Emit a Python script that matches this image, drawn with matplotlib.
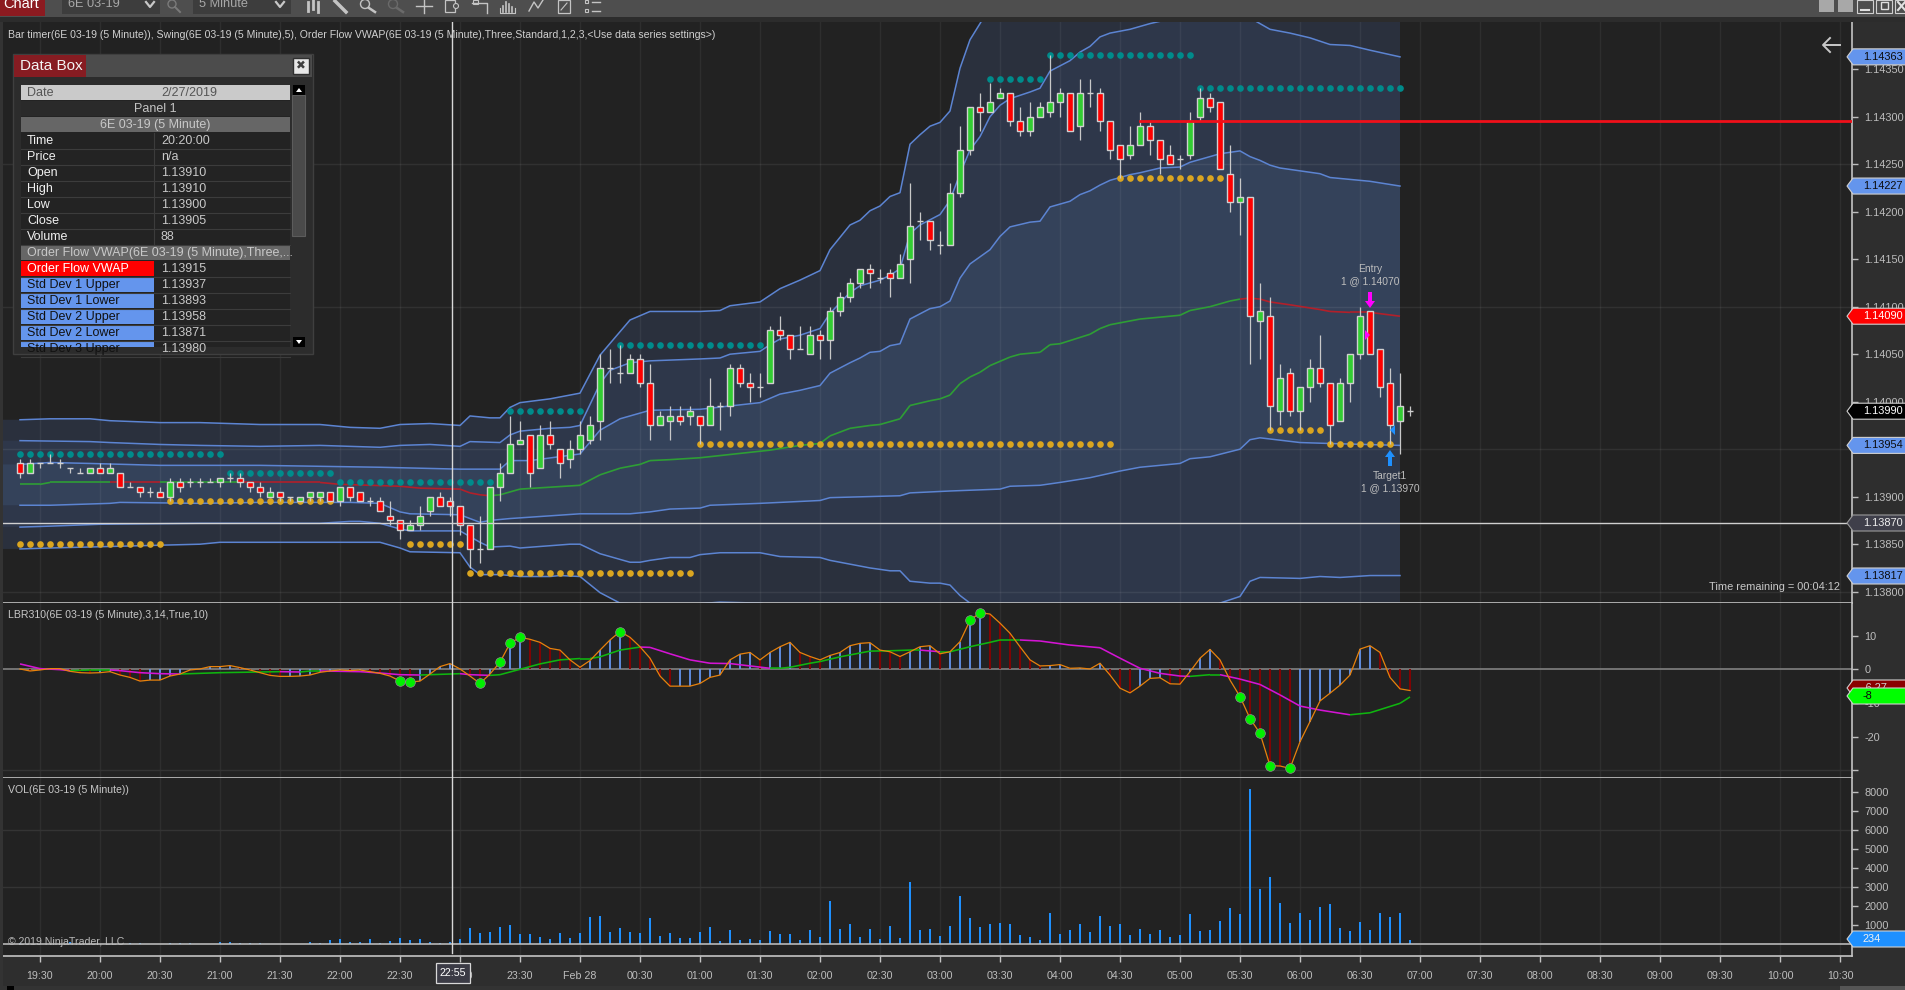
"""NinjaTrader 6E 03-19 5 minute chart: candles + VWAP bands, LBR310 pane, volume pane."""
import matplotlib
matplotlib.use('Agg')
import matplotlib.pyplot as plt
from matplotlib.collections import LineCollection
from matplotlib.patches import Rectangle, Polygon, Circle
import numpy as np

plt.rcParams['font.family'] = ['Liberation Sans', 'DejaVu Sans']

W, H = 1906, 990
BG = '#222222'
TXT = '#bdbdbd'

# --- candles, one row per bar from 19:20, 5 minutes apart
opens = [1.13935,1.13925,1.13935,1.13935,1.13935,1.1393,1.13925,1.13925,1.1393,1.13925,
         1.13925,1.1391,1.1391,1.13905,1.13905,1.139,1.13915,1.13915,1.13915,1.13915,
         1.13915,1.1392,1.1392,1.13915,1.1391,1.139,1.13905,1.139,1.13895,1.139,
         1.139,1.13905,1.13895,1.1391,1.13905,1.13895,1.13895,1.1388,1.13875,1.13865,
         1.1387,1.13885,1.139,1.13895,1.1389,1.1387,1.13845,1.13845,1.1391,1.13925,
         1.13955,1.13965,1.1393,1.13965,1.1395,1.1394,1.1395,1.1396,1.1398,1.14035,
         1.1403,1.1403,1.14045,1.1402,1.13975,1.1398,1.13985,1.13985,1.13985,1.13975,
         1.13995,1.13995,1.14035,1.1402,1.14015,1.1402,1.14075,1.1407,1.14055,1.1405,
         1.1407,1.14065,1.14095,1.1411,1.14125,1.1414,1.1413,1.14135,1.1413,1.1415,
         1.1419,1.1419,1.14165,1.14165,1.1422,1.14265,1.1431,1.14305,1.1432,1.14325,
         1.14295,1.14285,1.143,1.14305,1.14315,1.14325,1.1429,1.14325,1.14325,1.14295,
         1.1427,1.1426,1.1427,1.1429,1.14275,1.1426,1.14255,1.1426,1.143,1.1432,
         1.14315,1.1424,1.1421,1.14215,1.14085,1.1409,1.1399,1.1403,1.1399,1.14015,
         1.14035,1.1402,1.1398,1.1402,1.1405,1.14095,1.14055,1.1402,1.1398,1.1399]
highs = [1.1394,1.1394,1.13935,1.13945,1.1394,1.1393,1.1393,1.1393,1.13935,1.13935,
         1.13925,1.13915,1.1391,1.1391,1.1391,1.1392,1.1392,1.1392,1.1392,1.1392,
         1.1392,1.13925,1.13925,1.13915,1.13915,1.1391,1.13905,1.139,1.139,1.13905,
         1.13905,1.13905,1.1391,1.1391,1.13905,1.139,1.139,1.13895,1.13875,1.13875,
         1.1389,1.139,1.13905,1.139,1.1389,1.1387,1.1388,1.1391,1.13935,1.13985,
         1.1398,1.13965,1.13975,1.1398,1.1395,1.1396,1.1398,1.13985,1.1405,1.14055,
         1.1406,1.1405,1.1405,1.1404,1.1399,1.13995,1.13995,1.13995,1.13985,1.14025,
         1.1400,1.1404,1.1404,1.1403,1.1403,1.1408,1.1409,1.1407,1.1408,1.1408,
         1.14075,1.141,1.14115,1.1413,1.1414,1.14145,1.1414,1.1414,1.14155,1.1423,
         1.142,1.1419,1.1418,1.1423,1.1429,1.1431,1.14325,1.14335,1.1433,1.14325,
         1.1431,1.14315,1.14315,1.14365,1.1433,1.14325,1.1434,1.1434,1.1433,1.14295,
         1.1427,1.1429,1.14305,1.14295,1.14275,1.1427,1.1426,1.14305,1.1433,1.14325,
         1.14315,1.1427,1.14235,1.14215,1.14125,1.1411,1.1404,1.14035,1.14015,1.14045,
         1.1407,1.1402,1.14025,1.1405,1.141,1.14095,1.14055,1.14035,1.1403,1.13995]
lows = [1.1392,1.13925,1.1393,1.13935,1.1393,1.13925,1.13925,1.13925,1.13925,1.13925,
        1.1391,1.1391,1.139,1.139,1.139,1.13895,1.13905,1.1391,1.1391,1.13915,
        1.1391,1.13915,1.1391,1.13905,1.139,1.139,1.13895,1.13895,1.13895,1.13895,
        1.13895,1.13895,1.1389,1.13895,1.13895,1.1389,1.13885,1.1387,1.13855,1.13865,
        1.13865,1.1388,1.1389,1.1388,1.1386,1.13825,1.1383,1.13845,1.13895,1.13925,
        1.13955,1.1391,1.1393,1.1395,1.1392,1.1393,1.13945,1.13955,1.1396,1.1402,
        1.1402,1.1403,1.14015,1.1396,1.13975,1.1396,1.13975,1.13975,1.13955,1.13975,
        1.1397,1.13985,1.14015,1.1400,1.14005,1.1402,1.14065,1.14045,1.14055,1.1405,
        1.14045,1.14045,1.1409,1.14105,1.1412,1.1412,1.14125,1.1411,1.1413,1.14125,
        1.1417,1.1416,1.14155,1.14165,1.14215,1.1426,1.14285,1.14305,1.1432,1.1429,
        1.1428,1.1428,1.143,1.143,1.143,1.14285,1.14275,1.1431,1.14285,1.14255,
        1.14235,1.14255,1.1427,1.1426,1.1424,1.1425,1.14245,1.14255,1.14295,1.14305,
        1.14245,1.142,1.14175,1.1404,1.14045,1.1397,1.13975,1.13985,1.1397,1.1400,
        1.14015,1.13955,1.1398,1.1400,1.14045,1.1405,1.14005,1.13955,1.13945,1.13985]
closes = [1.13925,1.13935,1.13935,1.13935,1.13935,1.1393,1.13925,1.1393,1.13925,1.1393,
          1.1391,1.1391,1.13905,1.13905,1.139,1.13915,1.1391,1.13915,1.13915,1.13915,
          1.1392,1.1392,1.13915,1.1391,1.13905,1.13905,1.139,1.139,1.139,1.13905,
          1.13905,1.13895,1.1391,1.139,1.13895,1.13895,1.13885,1.13875,1.13865,1.1387,
          1.1388,1.139,1.1389,1.1389,1.1387,1.13845,1.13845,1.1391,1.13925,1.13955,
          1.1396,1.13925,1.13965,1.13955,1.13935,1.1395,1.13965,1.13975,1.14035,1.14035,
          1.1403,1.14045,1.1402,1.13975,1.13985,1.13985,1.1398,1.1399,1.13975,1.13995,
          1.13995,1.14035,1.1402,1.14015,1.14015,1.14075,1.1407,1.14055,1.14055,1.1407,
          1.14065,1.14095,1.1411,1.14125,1.1414,1.14135,1.1413,1.1413,1.14145,1.14185,
          1.1419,1.1417,1.14165,1.1422,1.14265,1.1431,1.14305,1.14315,1.14325,1.14295,
          1.14285,1.143,1.1431,1.14315,1.14325,1.14285,1.14325,1.14325,1.14295,1.14265,
          1.14255,1.1427,1.1429,1.14275,1.14255,1.1425,1.14255,1.14295,1.1432,1.1431,
          1.14245,1.1421,1.14215,1.1409,1.14095,1.13995,1.14025,1.1399,1.14015,1.14035,
          1.1402,1.13975,1.1402,1.1405,1.1409,1.1405,1.14015,1.13975,1.13995,1.1399]

# --- VWAP and deviation bands: bar number and price of each bend in the line
std3u_x = [0,3,7,9,14,18,24,30,33,36,38,41,44,45,47,48,49,50,53,56,58,61,63,68,70,71,74,76,78,80,81,83,84,85,86,87,88,89,90,91,92,93,94,95,96,100,120,138]
std3u_y = [1.13981,1.13982,1.13982,1.1398,1.13978,1.13978,1.13976,1.13976,1.13973,1.13972,1.13976,1.13977,1.13975,1.13985,1.13983,1.13983,1.13994,1.13999,1.14003,1.14009,1.14049,1.14086,1.14095,1.14095,1.14096,1.14101,1.14105,1.14119,1.14128,1.14138,1.1416,1.14186,1.14191,1.14201,1.14206,1.14216,1.1422,1.14271,1.14281,1.1429,1.14294,1.14306,1.14351,1.14381,1.14398,1.1447,1.146,1.146]
std2u_x = [0,7,9,14,18,24,30,33,36,38,41,44,45,48,49,50,53,55,56,58,59,61,63,68,70,71,74,75,76,78,80,81,83,84,86,87,88,89,90,92,93,94,95,96,97,98,99,101,102,103,105,106,107,108,109,111,113,118,122,125,127,129,131,133,135,138]
std2u_y = [1.13959,1.13958,1.13957,1.13955,1.13954,1.13953,1.13954,1.13953,1.13952,1.13954,1.13955,1.13953,1.13958,1.13957,1.13965,1.13969,1.13972,1.13973,1.13975,1.14019,1.14033,1.14041,1.14043,1.14045,1.14046,1.1405,1.14053,1.1406,1.14066,1.1407,1.14077,1.14093,1.14115,1.14122,1.14128,1.14133,1.1414,1.14177,1.14186,1.14197,1.14212,1.1424,1.14265,1.14279,1.143,1.14312,1.14319,1.14326,1.1433,1.14348,1.14359,1.14368,1.14374,1.14384,1.14388,1.14392,1.14398,1.1441,1.1441,1.14392,1.14388,1.14383,1.14376,1.14375,1.1437,1.14363]
std1u_x = [0,3,7,14,24,30,36,44,48,49,51,56,58,60,63,68,74,76,78,80,81,83,84,85,86,87,88,89,91,92,93,94,95,97,98,99,101,102,103,105,106,107,108,109,111,112,114,116,117,120,122,123,124,125,126,130,131,133,135,138]
std1u_y = [1.13934,1.13936,1.13935,1.13933,1.13933,1.13932,1.13931,1.13929,1.13929,1.13938,1.13938,1.13945,1.1397,1.13982,1.13991,1.13992,1.13999,1.14008,1.14012,1.14017,1.1403,1.14041,1.14046,1.14052,1.14053,1.14059,1.14061,1.14087,1.14098,1.141,1.14106,1.1413,1.14145,1.1416,1.14174,1.14184,1.14189,1.1419,1.14205,1.14211,1.14218,1.14222,1.14228,1.14233,1.14239,1.14241,1.14246,1.14247,1.14252,1.14261,1.14264,1.14258,1.14254,1.14249,1.14246,1.1424,1.14236,1.14234,1.14232,1.14227]
vwap_x = [0,2,3,9,10,14,15,21,22,30,32,35,38,40,44,45,46,47,48,50,53,56,58,60,62,63,65,68,75,78,80,81,83,85,86,88,89,91,92,93,94,95,96,97,99,100,102,103,104,107,108,109,112,114,116,117,119,121,122,123,124,125,127,130,131,133,135,138]
vwap_y = [1.13913,1.13913,1.13915,1.13915,1.13915,1.13915,1.13915,1.13915,1.13915,1.13915,1.13913,1.13912,1.13911,1.13909,1.13908,1.13904,1.13902,1.13901,1.13902,1.13908,1.1391,1.13912,1.13923,1.1393,1.13934,1.13938,1.13939,1.13941,1.13949,1.13954,1.13956,1.13964,1.13972,1.13975,1.13976,1.13982,1.13996,1.14001,1.14003,1.14007,1.14019,1.14026,1.14031,1.14038,1.14047,1.1405,1.14052,1.1406,1.14061,1.14071,1.14077,1.14081,1.14087,1.14089,1.14091,1.14096,1.141,1.14106,1.14108,1.14109,1.14108,1.14105,1.14102,1.14097,1.14095,1.14094,1.14094,1.1409]
vwap_red_spans = [(9, 14), (22, 47), (122, 138)]
std1l_x = [0,3,9,10,18,24,30,33,36,38,39,44,46,47,49,56,61,63,65,68,69,74,80,81,88,89,93,98,99,102,104,107,110,112,116,117,119,122,123,124,128,131,138]
std1l_y = [1.13891,1.13891,1.13893,1.13894,1.13893,1.13894,1.13894,1.13894,1.13893,1.13884,1.13882,1.13881,1.13873,1.13875,1.13877,1.13882,1.13882,1.13884,1.13887,1.13888,1.13891,1.13893,1.13896,1.13899,1.13901,1.13904,1.13906,1.13908,1.13911,1.13912,1.13915,1.1392,1.13927,1.13931,1.13935,1.1394,1.13942,1.1395,1.1396,1.13962,1.13957,1.13956,1.13954]
std2l_x = [0,3,8,18,30,33,34,36,38,39,44,45,46,47,49,50,55,56,58,61,62,63,65,67,68,70,74,76,80,81,85,87,88,89,91,92,93,94,95,100,115,120,122,123,124,128,130,132,135,137,138]
std2l_y = [1.13868,1.13869,1.13871,1.13872,1.13872,1.13874,1.13874,1.13872,1.13866,1.13864,1.13864,1.13858,1.13852,1.13847,1.13848,1.13846,1.1385,1.1385,1.1384,1.13831,1.13831,1.13833,1.13836,1.13836,1.13839,1.13841,1.13841,1.13837,1.13836,1.13833,1.13825,1.13822,1.13822,1.13811,1.13809,1.13809,1.13807,1.13796,1.13788,1.1376,1.1376,1.13788,1.13795,1.13811,1.13815,1.13814,1.13816,1.13815,1.13817,1.13817,1.13817]
std3l_x = [0,3,18,20,36,38,39,44,45,46,48,50,53,54,56,58,60,65,70,74,78,138]
std3l_y = [1.13845,1.13846,1.1385,1.13852,1.13852,1.13846,1.13842,1.13841,1.13826,1.13818,1.13818,1.13816,1.13816,1.13817,1.13816,1.13799,1.13788,1.13785,1.13789,1.13788,1.1378,1.1370]

# --- swing dots: first bar, last bar, price
swing_high = [(0,20,1.13945),(21,31,1.13925),(32,47,1.13915),(49,56,1.1399),(60,74,1.1406),
              (97,102,1.1434),(103,117,1.14365),(118,138,1.1433)]
swing_low = [(0,14,1.1385),(15,31,1.13895),(39,44,1.1385),(45,67,1.1382),(68,109,1.13955),
             (110,120,1.14235),(125,130,1.1397),(131,137,1.13955)]
resistance = 1.14295
resistance_start = 112

# --- LBR310 pane
fast = [0.1,-0.5,-0.2,0.2,0.2,-0.6,-1.0,-1.1,-1.0,-0.7,-1.7,-2.4,-3.5,-3.2,-3.2,-2.0,-1.4,-0.2,0.1,0.8,
        0.8,1.1,0.5,-0.2,-1.0,-1.8,-2.1,-2.1,-2.0,-1.7,-0.9,-0.5,-0.2,-0.4,-0.2,-0.7,-1.2,-2.0,-3.5,-3.8,
        -3.5,-1.4,0.8,1.7,0.1,-2.0,-4.2,-1.4,2.1,7.7,9.5,8.9,8.0,6.2,5.7,2.8,0.6,2.6,5.7,8.7,
        11.2,9.5,6.7,3.3,-2.0,-5.0,-5.0,-5.0,-4.2,-2.4,-1.7,2.8,4.5,5.0,2.8,5.0,6.7,8.0,5.0,3.8,
        2.8,4.1,5.0,7.0,7.7,7.9,5.7,5.2,3.8,5.2,6.7,7.0,4.6,5.2,8.2,14.5,16.8,16.4,13.7,10.7,
        6.7,2.8,1.0,1.1,1.4,0.3,0.4,0.1,1.8,-1.7,-5.6,-7.0,-5.0,-2.7,-2.5,-4.3,-4.4,-0.7,3.3,5.9,
        2.8,-3.2,-8.1,-14.6,-19.0,-28.6,-28.7,-29.4,-21.5,-15.5,-9.4,-7.1,-4.7,-1.7,6.0,7.0,5.0,-2.4,-5.8,-6.3]
slow_x = [0,2,4,5,7,9,10,12,14,16,18,20,22,24,26,28,29,30,32,34,36,38,40,42,44,45,47,48,50,52,54,56,57,58,60,62,63,65,67,69,71,73,75,76,77,79,80,82,85,87,89,90,92,93,95,97,98,100,102,105,108,110,112,114,116,117,119,120,122,124,126,128,130,133,135,138,139]
slow_y = [1.6,0.2,-0.1,-0.4,-0.2,-0.2,-0.4,-1.0,-1.3,-1.4,-1.2,-1.0,-0.9,-0.8,-0.7,-0.8,-0.5,-0.5,-0.6,-0.7,-1.1,-1.6,-1.7,-1.5,-1.3,-1.6,-1.8,-1.6,0.0,1.6,2.8,3.2,3.2,3.7,5.7,6.6,6.5,4.6,2.8,1.8,1.7,1.0,0.3,0.3,0.6,1.8,2.3,3.7,5.4,5.5,5.7,5.7,5.2,5.2,6.7,8.0,8.7,8.7,8.4,7.2,6.4,3.3,0.3,-1.2,-2.0,-2.1,-1.6,-1.6,-2.9,-4.5,-7.6,-10.9,-12.1,-13.5,-12.9,-10.1,-8.2]
signal_bars = [38,39,46,48,49,50,60,95,96,122,123,124,125,127]

# --- volume pane
volume = [50,20,20,20,20,90,20,20,20,20,20,50,70,20,20,70,70,70,20,20,
          90,120,70,70,70,20,20,20,20,120,50,230,280,120,120,280,70,180,330,230,
          280,120,70,120,280,858,595,648,910,1015,543,543,385,280,595,333,595,1435,1488,648,
          858,648,595,1383,438,595,333,333,648,910,175,753,228,280,228,700,543,543,228,753,
          385,2275,805,1068,385,805,280,963,333,3273,753,805,438,963,2538,1383,910,1068,1120,1068,
          490,385,228,1645,543,753,1068,648,1488,963,1068,490,805,543,753,385,490,1593,700,753,
          1225,1908,1593,8155,2905,3535,2170,1120,1645,1278,1960,2118,858,700,1173,753,1645,1435,1645,234]

time_labels = ['19:30','20:00','20:30','21:00','21:30','22:00','22:30','23:00','23:30','Feb 28',
               '00:30','01:00','01:30','02:00','02:30','03:00','03:30','04:00','04:30','05:00',
               '05:30','06:00','06:30','07:00','07:30','08:00','08:30','09:00','09:30','10:00','10:30']
price_ticks = [1.138,1.1385,1.139,1.1395,1.14,1.1405,1.141,1.1415,1.142,1.1425,1.143,1.1435]
price_grid = [1.138,1.1395,1.141,1.1425]
lbr_ticks = [10,0,-10,-20,-30]
vol_ticks = [1000,2000,3000,4000,5000,6000,7000,8000]

box_rows = [('Time','20:20:00'),('Price','n/a'),('Open','1.13910'),('High','1.13910'),
            ('Low','1.13900'),('Close','1.13905'),('Volume','88')]
box_plots = [('Order Flow VWAP','1.13915','#ff0000','#ffffff'),('Std Dev 1 Upper','1.13937','#6495ed','#111111'),
             ('Std Dev 1 Lower','1.13893','#6495ed','#111111'),('Std Dev 2 Upper','1.13958','#6495ed','#111111'),
             ('Std Dev 2 Lower','1.13871','#6495ed','#111111'),('Std Dev 3 Upper','1.13980','#6495ed','#111111')]

AXIS_X = 1852
BARS_LEFT, BARS_RIGHT = -2.0, 183.2

fig = plt.figure(figsize=(W / 100, H / 100), dpi=100, facecolor='#2e2e2e')


def pane(top, bottom, ylim):
    ax = fig.add_axes([0, 1 - bottom / H, AXIS_X / W, (bottom - top) / H], facecolor=BG)
    ax.set_xlim(BARS_LEFT, BARS_RIGHT)
    ax.set_ylim(*ylim)
    ax.yaxis.tick_right()
    for side in ['left', 'top']:
        ax.spines[side].set_visible(False)
    for side in ['right', 'bottom']:
        ax.spines[side].set_color('#c4c4c4')
        ax.spines[side].set_linewidth(1.2)
    ax.tick_params(axis='y', colors=TXT, length=4, width=1, labelsize=7.9, pad=5)
    ax.tick_params(axis='x', length=0, labelbottom=False)
    tick_bars = [2 + 6 * k for k in range(len(time_labels))]
    ax.set_xticks(tick_bars)
    for b in tick_bars:
        ax.axvline(b, color='#ffffff', alpha=0.055, lw=1, zorder=1.5)
    return ax


ax = pane(22, 603, (1.1435 - (603 - 69.2) / 95000, 1.1435 + (69.2 - 22) / 95000))
ax_lbr = pane(603, 778, (-(778 - 669.3) / 3.37, (669.3 - 603) / 3.37))
ax_vol = pane(778, 956, (-(956 - 944) / 0.01905, (944 - 778) / 0.01905))

# bands, widest first so the inner ones sit on top
edge_x = BARS_LEFT


def band_fill(x_up, y_up, x_lo, y_lo, color):
    xs = [edge_x] + x_up + [138, 138] + x_lo[::-1] + [edge_x]
    ys = [y_up[0]] + y_up + [y_up[-1], y_lo[-1]] + y_lo[::-1] + [y_lo[0]]
    ax.fill(xs, ys, color=color, lw=0, zorder=1)


band_fill(std3u_x, std3u_y, std3l_x, std3l_y, '#2a303d')
band_fill(std2u_x, std2u_y, std2l_x, std2l_y, '#2e374a')
band_fill(std1u_x, std1u_y, std1l_x, std1l_y, '#34425a')

for p in price_grid:
    ax.axhline(p, color='#ffffff', alpha=0.07, lw=1, zorder=1.5)

for xs, ys in [(std3u_x, std3u_y), (std2u_x, std2u_y), (std1u_x, std1u_y),
               (std1l_x, std1l_y), (std2l_x, std2l_y), (std3l_x, std3l_y)]:
    ax.plot(xs, ys, color='#5c84d2', lw=1.1, zorder=2)

# vwap goes red in some stretches, green otherwise
vwap_pts = np.column_stack([vwap_x, vwap_y])
vwap_segs = np.stack([vwap_pts[:-1], vwap_pts[1:]], axis=1)
vwap_cols = ['#b2202a' if any(a <= x0 < b for a, b in vwap_red_spans) else '#2e9e35'
             for x0 in vwap_x[:-1]]
ax.add_collection(LineCollection(vwap_segs, colors=vwap_cols, linewidths=1.2, zorder=2.2))

for first, last, price in swing_high:
    ax.plot(range(first, last + 1), [price] * (last - first + 1), ls='none', marker='o', ms=4.8,
            color='#008b8b', mec='none', zorder=3)
for first, last, price in swing_low:
    ax.plot(range(first, last + 1), [price] * (last - first + 1), ls='none', marker='o', ms=4.8,
            color='#daa520', mec='none', zorder=3)

ax.plot([resistance_start, BARS_RIGHT], [resistance, resistance], color='#f0101a', lw=2, zorder=4.5)

# candles
bars = np.arange(len(closes))
o, h, l, c = map(np.array, (opens, highs, lows, closes))
ax.vlines(bars, l, h, color='#c8c8c8', lw=0.9, zorder=4)
up = c > o
down = c < o
flat = c == o
ax.bar(bars[up], (c - o)[up], 0.55, bottom=o[up], color='#32cd32', edgecolor='#d0d0d0', lw=1, zorder=4.2)
ax.bar(bars[down], (o - c)[down], 0.55, bottom=c[down], color='#ff0000', edgecolor='#d0d0d0', lw=1, zorder=4.2)
ax.hlines(c[flat], bars[flat] - 0.33, bars[flat] + 0.33, color='#d0d0d0', lw=1, zorder=4.2)

ax.set_yticks(price_ticks, [f'{p:.5f}' for p in price_ticks])

# LBR310
fast_arr = np.array(fast)
rising = np.r_[True, np.diff(fast_arr) >= 0]
ax_lbr.axhline(0, color='#747474', lw=1.4, zorder=1.6)
ax_lbr.axhline(-30, color='#343434', lw=1, zorder=1.5)
ax_lbr.vlines(bars, 0, fast_arr, colors=['#6495ed' if r else '#8b0000' for r in rising], lw=1.3, zorder=2)
slow_pts = np.column_stack([slow_x, slow_y])
slow_segs = np.stack([slow_pts[:-1], slow_pts[1:]], axis=1)
slow_cols = ['#0fb50f' if b >= a else '#d414d4' for a, b in zip(slow_y[:-1], slow_y[1:])]
ax_lbr.add_collection(LineCollection(slow_segs, colors=slow_cols, linewidths=1.15, zorder=2.4))
ax_lbr.plot(bars, fast_arr, color='#e8820c', lw=0.9, zorder=3)
ax_lbr.plot(signal_bars, fast_arr[signal_bars], ls='none', marker='o', ms=7, color='#00f000',
            mec='#8a8a8a', mew=0.5, zorder=4)
ax_lbr.set_yticks(lbr_ticks, ['10', '0', '-10', '-20', ''])

# volume
ax_vol.axhline(6000, color='#343434', lw=1, zorder=1.6)
ax_vol.axhline(3000, color='#343434', lw=1, zorder=1.6)
ax_vol.bar(bars, volume, 0.2, color='#1e90ff', lw=0, zorder=2)
ax_vol.axhline(0, color='#c4c4c4', lw=1.1, zorder=3)
ax_vol.set_yticks(vol_ticks, [str(v) for v in vol_ticks])
ax_vol.tick_params(axis='x', length=4, width=1, color='#c4c4c4', labelbottom=True, labelcolor=TXT,
                   labelsize=7.7, pad=6.5)
ax_vol.set_xticklabels(time_labels)

# overlay in screen pixels for the platform chrome
ui = fig.add_axes([0, 0, 1, 1], facecolor='none', zorder=10)
ui.set_xlim(0, W)
ui.set_ylim(H, 0)
ui.axis('off')


def px(axis, value):
    return H - axis.transData.transform((0, value))[1]


def box(x0, y0, x1, y1, fc, ec='none', lw=0, z=2):
    r = Rectangle((x0, y0), x1 - x0, y1 - y0, fc=fc, ec=ec, lw=lw, zorder=z)
    ui.add_patch(r)
    return r


def label(x, y, s, color=TXT, size=7.6, ha='left', **kw):
    return ui.text(x, y, s, color=color, fontsize=size, ha=ha, va='center', zorder=kw.pop('z', 6), **kw)


def flag(y, s, fc, tc, ec='#d0d0d0', z=4):
    ui.add_patch(Polygon([(1847, y), (1853, y - 8), (W, y - 8), (W, y + 8), (1853, y + 8)],
                         fc=fc, ec=ec, lw=0.8, zorder=z))
    label(1863, y, s, color=tc, size=7.9, z=z + 0.5)


# crosshair
ui.plot([452, 452], [22, 953], color='#d8d8d8', lw=1, zorder=1.5)
ui.plot([0, AXIS_X], [523, 523], color='#d0d0d0', lw=1, zorder=1.5)

# price flags
flag(px(ax, 1.14363), '1.14363', '#6495ed', '#0c0c0c')
flag(px(ax, 1.14227), '1.14227', '#6495ed', '#0c0c0c')
flag(px(ax, 1.14090), '1.14090', '#ff0000', '#ffffff')
flag(px(ax, 1.13990), '1.13990', '#000000', '#ffffff')
flag(px(ax, 1.13954), '1.13954', '#6495ed', '#0c0c0c')
flag(523, '1.13870', '#3f3f4a', '#f0f0f0', ec='#9a9a9a')
flag(576, '1.13817', '#6495ed', '#0c0c0c')
flag(688, '-6.27', '#8b0000', '#d0d0d0', z=4)
flag(696, '-8', '#00ff00', '#0c0c0c', z=5)
flag(939, '234', '#1e90ff', '#f0f0f0')

# pane titles and notes
label(8, 35, 'Bar timer(6E 03-19 (5 Minute)), Swing(6E 03-19 (5 Minute),5), Order Flow VWAP(6E 03-19 (5 Minute),'
             'Three,Standard,1,2,3,<Use data series settings>)', color='#d0d0d0', size=7.6)
label(8, 615, 'LBR310(6E 03-19 (5 Minute),3,14,True,10)', color='#c8c8c8', size=7.55)
label(8, 790, 'VOL(6E 03-19 (5 Minute))', color='#c8c8c8', size=7.55)
label(8, 942, '\u00a9 2019 NinjaTrader, LLC', color='#b8b8b8', size=7.6)
label(1840, 587, 'Time remaining = 00:04:12', ha='right', color='#c8c8c8', size=7.9)

# trade markers
label(1370, 269, 'Entry', ha='center', size=7.4)
label(1370, 281, '1 @ 1.14070', ha='center', size=7.4)
label(1390, 476, 'Target1', ha='center', size=7.4)
label(1390, 488, '1 @ 1.13970', ha='center', size=7.4)
ui.add_patch(Polygon([(1368, 292), (1372, 292), (1372, 301), (1375, 301), (1370, 308), (1365, 301), (1368, 301)],
                     fc='#ff00ff', ec='none', zorder=5))
ui.add_patch(Polygon([(1388, 466), (1392, 466), (1392, 457), (1395, 457), (1390, 450), (1385, 457), (1388, 457)],
                     fc='#1e90ff', ec='none', zorder=5))
ui.add_patch(Polygon([(1365, 330), (1370, 335), (1365, 340)], fc='#ff00ff', ec='none', zorder=5))
ui.add_patch(Polygon([(1395, 425), (1390, 430), (1395, 435)], fc='#1e90ff', ec='none', zorder=5))
ui.plot([1824, 1840], [45, 45], color='#c8c8c8', lw=1.4)
ui.plot([1830, 1823, 1830], [38, 45, 52], color='#c8c8c8', lw=1.4)

# toolbar
box(0, 0, W, 17, '#4e4e4e')
box(0, 17, W, 22, '#2c2c2c')
box(0, 0, 45, 16, '#8c1a20')
label(3, 4, 'Chart', color='#ffffff', size=10.5)
box(62, 0, 160, 14, '#3d3d3d')
box(193, 0, 291, 14, '#3d3d3d')
label(68, 4, '6E 03-19', color='#a8a8a8', size=9.2)
label(199, 4, '5 Minute', color='#a8a8a8', size=9.2)
for cx in (150, 280):
    ui.plot([cx - 4, cx, cx + 4], [2, 7, 2], color='#c8c8c8', lw=1.6, zorder=5)
ui.add_patch(Circle((172, 4), 4, fc='none', ec='#7a7a7a', lw=1, zorder=5))
ui.plot([175, 180], [7, 12], color='#7a7a7a', lw=1.4, zorder=5)
ic = '#c4c4c4'
for x0, y0, y1 in [(308, 2, 11), (313, 0, 9), (318, 2, 12)]:
    ui.plot([x0, x0], [y0, y1], color=ic, lw=2, zorder=5)
ui.plot([335, 346], [1, 12], color=ic, lw=2.5, zorder=5)
ui.add_patch(Circle((365, 4), 4.5, fc='none', ec=ic, lw=1, zorder=5))
ui.plot([369, 375], [8, 12], color=ic, lw=1.8, zorder=5)
ui.add_patch(Circle((393, 4), 4.5, fc='none', ec='#6a6a6a', lw=1, zorder=5))
ui.plot([397, 403], [8, 12], color='#6a6a6a', lw=1.8, zorder=5)
ui.plot([416, 432], [6, 6], color=ic, lw=1, zorder=5)
ui.plot([424, 424], [0, 13], color=ic, lw=1, zorder=5)
box(445, 0, 455, 12, 'none', ec=ic, lw=0.9, z=5)
ui.add_patch(Circle((456, 6), 2.5, fc='#4e4e4e', ec=ic, lw=0.8, zorder=5))
ui.plot([472, 487, 487], [3, 3, 13], color=ic, lw=1, zorder=5)
box(473, 0, 478, 4, 'none', ec=ic, lw=0.8, z=5)
for x0, y0 in [(503, 6), (506, 2), (509, 4), (512, 7)]:
    ui.plot([x0, x0], [y0, 12], color=ic, lw=1.2, zorder=5)
ui.plot([500, 500, 515, 515], [8, 13, 13, 8], color=ic, lw=0.8, zorder=5)
ui.plot([529, 534, 538, 543], [11, 2, 8, 0], color=ic, lw=1, zorder=5)
box(558, 0, 570, 13, 'none', ec=ic, lw=0.9, z=5)
ui.plot([561, 567], [10, 3], color=ic, lw=0.8, zorder=5)
for yy in (2, 11):
    box(585, yy - 2, 588, yy + 1, 'none', ec=ic, lw=0.8, z=5)
    ui.plot([592, 600], [yy, yy], color=ic, lw=1, zorder=5)
box(1819, 0, 1834, 12, '#a8a8a8')
box(1838, 0, 1853, 12, '#a8a8a8')
for x0, x1 in [(1857, 1873), (1876, 1892), (1895, 1906)]:
    box(x0, 0, x1, 13, '#4e4e4e', ec='#d0d0d0', lw=0.8)
ui.plot([1861, 1869], [10, 10], color='#e0e0e0', lw=1.5, zorder=5)
box(1881, 2, 1888, 9, 'none', ec='#e0e0e0', lw=1, z=5)
ui.plot([1898, 1905], [2, 10], color='#e0e0e0', lw=1.5, zorder=5)
ui.plot([1898, 1905], [10, 2], color='#e0e0e0', lw=1.5, zorder=5)

# frame bits
box(0, 22, 3, 986, '#333333')
box(0, 986, W, H, '#333333')
box(1840, 986, W, H, '#555555')
box(7, 986, 14, H, '#000000')

# crosshair time
box(436, 963, 470, 983, '#3b3b45', ec='#d8d8d8', lw=0.9, z=7)
label(453, 973, '22:55', color='#ffffff', ha='center', size=7.7, z=8)

# data box
box(13, 54, 313, 354, '#2c2c2c', ec='#3f3f3f', lw=1, z=7)
box(14, 55, 312, 77, '#4c4c4c', z=7.1)
box(14, 55, 86, 77, '#861c22', z=7.2)
label(20, 66, 'Data Box', color='#f4f4f4', size=11, z=8)
box(293, 58, 309, 74, '#e8e8e8', ec='#303030', lw=1, z=7.3)
label(301, 66, '\u2716', color='#404040', ha='center', size=8.5, z=8)
COL0, COL1, COL2 = 21, 154, 290
ROW = 16
rows_top = 85
FS = 9
box(COL0, rows_top, COL2, 347, '#232323', z=7.2)
clip = box(COL0, rows_top, COL2, 347, 'none', z=7.2)


def row_y(n):
    return rows_top + n * ROW


def full_row(n, s, fc, tc, ha='center'):
    box(COL0, row_y(n), COL2, row_y(n) + ROW - 1, fc, z=7.3)
    x = COL0 + 6 if ha == 'left' else (COL0 + COL2) / 2
    label(x, row_y(n) + 8, s, color=tc, ha=ha, size=FS, z=8)


box(COL0, row_y(0), COL2, row_y(0) + ROW - 1, '#cacaca', z=7.3)
label(COL0 + 6, row_y(0) + 8, 'Date', color='#555555', size=FS, z=8)
label(COL1 + 7, row_y(0) + 8, '2/27/2019', color='#555555', size=FS, z=8)
full_row(1, 'Panel 1', '#2a2a2a', '#c4c4c4')
full_row(2, '6E 03-19 (5 Minute)', '#666666', '#c8c8c8')
for k, (name, val) in enumerate(box_rows):
    n = 3 + k
    label(COL0 + 6, row_y(n) + 8, name, color='#f0f0f0', size=FS, z=8)
    label(COL1 + 7, row_y(n) + 8, val, color='#c8c8c8', size=FS, z=8)
    ui.plot([COL0, COL2], [row_y(n) + ROW - 0.5] * 2, color='#3c3c3c', lw=0.8, zorder=7.4)
    ui.plot([COL1, COL1], [row_y(n), row_y(n) + ROW], color='#3c3c3c', lw=0.8, zorder=7.4)
full_row(10, 'Order Flow VWAP(6E 03-19 (5 Minute),Three,...', '#666666', '#c8c8c8', ha='left')
for k, (name, val, fc, tc) in enumerate(box_plots):
    n = 11 + k
    r = box(COL0, row_y(n), COL1, row_y(n) + ROW - 1, fc, z=7.3)
    r.set_clip_path(clip)
    t = label(COL0 + 6, row_y(n) + 8, name, color=tc, size=FS, z=8)
    t.set_clip_path(clip)
    t = label(COL1 + 7, row_y(n) + 8, val, color='#c8c8c8', size=FS, z=8)
    t.set_clip_path(clip)
    ui.plot([COL0, COL2], [row_y(n) + ROW - 0.5] * 2, color='#3c3c3c', lw=0.8, zorder=7.4, clip_path=clip)
box(292, 95, 305, 236, '#4a4a4a', ec='#5c5c5c', lw=0.8, z=7.3)
box(293, 85, 305, 95, '#000000', z=7.4)
box(293, 337, 305, 347, '#000000', z=7.4)
ui.add_patch(Polygon([(296, 92), (299, 88), (302, 92)], fc='#ffffff', ec='none', zorder=7.5))
ui.add_patch(Polygon([(296, 340), (299, 344), (302, 340)], fc='#ffffff', ec='none', zorder=7.5))

fig.savefig('out.png', dpi=100, facecolor=fig.get_facecolor())
